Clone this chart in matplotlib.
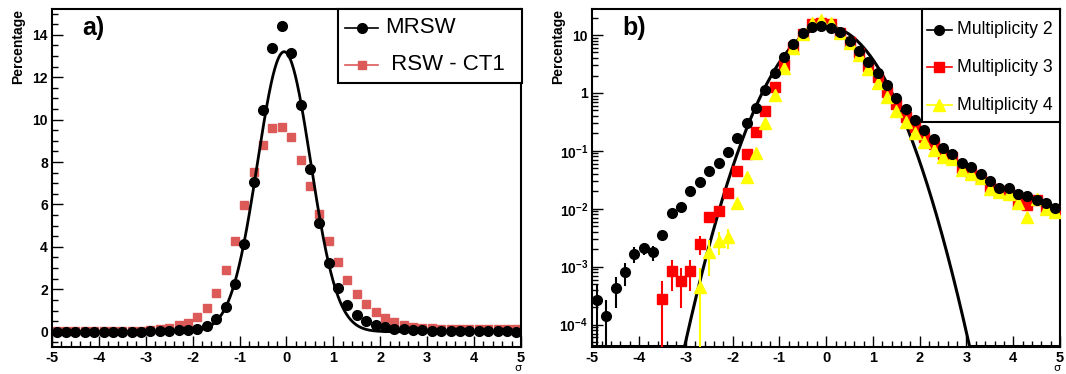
import numpy as np
import matplotlib
matplotlib.use("Agg")
import matplotlib.pyplot as plt
from matplotlib.patches import Rectangle
from matplotlib.lines import Line2D
from matplotlib.ticker import MultipleLocator, FixedLocator, FixedFormatter, NullFormatter, LogLocator

plt.rcParams['font.family'] = ['Liberation Sans', 'DejaVu Sans']
plt.rcParams['mathtext.fontset'] = 'custom'
plt.rcParams['mathtext.rm'] = 'Liberation Sans'
plt.rcParams['mathtext.bf'] = 'Liberation Sans:bold'
plt.rcParams['mathtext.it'] = 'Liberation Sans:italic'

# ---------------- data ----------------
sigma_bins = [-4.9, -4.7, -4.5, -4.3, -4.1, -3.9, -3.7, -3.5, -3.3, -3.1,
              -2.9, -2.7, -2.5, -2.3, -2.1, -1.9, -1.7, -1.5, -1.3, -1.1,
              -0.9, -0.7, -0.5, -0.3, -0.1, 0.1, 0.3, 0.5, 0.7, 0.9,
              1.1, 1.3, 1.5, 1.7, 1.9, 2.1, 2.3, 2.5, 2.7, 2.9,
              3.1, 3.3, 3.5, 3.7, 3.9, 4.1, 4.3, 4.5, 4.7, 4.9]

# panel a) linear percentages
mrsw = [0.0, 0.0, 0.0, 0.0, 0.0, 0.0, 0.0, 0.0, 0.01, 0.01,
        0.02, 0.03, 0.045, 0.06, 0.09, 0.15, 0.29, 0.58, 1.18, 2.25,
        4.14, 7.08, 10.45, 13.37, 14.42, 13.13, 10.69, 7.67, 5.14, 3.25,
        2.05, 1.26, 0.80, 0.50, 0.32, 0.21, 0.15, 0.11, 0.08, 0.06,
        0.05, 0.04, 0.03, 0.025, 0.022, 0.018, 0.016, 0.014, 0.013, 0.01]
rsw_ct1 = [0.02, 0.02, 0.02, 0.02, 0.02, 0.03, 0.03, 0.03, 0.04, 0.05,
           0.07, 0.11, 0.19, 0.30, 0.43, 0.70, 1.13, 1.81, 2.91, 4.29,
           5.98, 7.55, 8.80, 9.59, 9.67, 9.20, 8.10, 6.87, 5.54, 4.28,
           3.27, 2.44, 1.78, 1.31, 0.94, 0.66, 0.45, 0.32, 0.24, 0.19,
           0.16, 0.15, 0.14, 0.13, 0.13, 0.12, 0.12, 0.12, 0.12, 0.12]

# panel b) log percentages (NaN = no entry)
nan = np.nan
mult2 = [2.7e-4, 1.4e-4, 4.2e-4, 8.2e-4, 1.66e-3, 2.07e-3, 1.77e-3, 3.46e-3, 8.3e-3, 1.06e-2,
         2.02e-2, 2.93e-2, 4.5e-2, 6.2e-2, 9.7e-2, 0.169, 0.306, 0.56, 1.12, 2.18,
         4.1, 6.9, 10.7, 13.6, 14.5, 13.4, 11.1, 7.9, 5.36, 3.46,
         2.23, 1.37, 0.83, 0.52, 0.34, 0.229, 0.158, 0.110, 0.088, 0.062,
         0.052, 0.040, 0.030, 0.023, 0.0225, 0.0179, 0.0166, 0.0141, 0.0127, 0.0102]
mult2_err = [2.3e-4, 1.3e-4, 2.3e-4, 3.5e-4, 5e-4, 5e-4, 5e-4, 5e-4, 0, 0,
             0, 0, 0, 0, 0, 0, 0, 0, 0, 0,
             0, 0, 0, 0, 0, 0, 0, 0, 0, 0,
             0, 0, 0, 0, 0, 0, 0, 0, 0, 0,
             0, 0, 0, 0, 0, 0, 0, 0, 0, 0]
mult3 = [nan, nan, nan, nan, nan, nan, nan, 2.75e-4, 8.4e-4, 5.6e-4,
         8.4e-4, 2.5e-3, 7.3e-3, 9.1e-3, 1.85e-2, 4.5e-2, 8.8e-2, 0.209, 0.49, 1.25,
         3.03, 6.3, 10.4, 15.5, 16.3, 15.5, 11.0, 7.7, 4.9, 2.9,
         1.86, 1.05, 0.64, 0.39, 0.255, 0.175, 0.131, 0.088, 0.077, 0.050,
         0.041, 0.0335, 0.0234, 0.0205, 0.019, 0.0124, 0.0116, 0.0141, 0.0102, 0.0092]
mult3_err = [0, 0, 0, 0, 0, 0, 0, 2.8e-4, 4.6e-4, 3.7e-4,
             4.6e-4, 9e-4, 1.2e-3, 0, 0, 0, 0, 0, 0, 0,
             0, 0, 0, 0, 0, 0, 0, 0, 0, 0,
             0, 0, 0, 0, 0, 0, 0, 0, 0, 0,
             0, 0, 0, 0, 0, 0, 0, 0, 0, 0]
mult4 = [nan, nan, nan, nan, nan, nan, nan, nan, nan, nan,
         nan, 4.5e-4, 1.8e-3, 2.8e-3, 3.2e-3, 1.24e-2, 3.5e-2, 9.3e-2, 0.30, 0.92,
         2.66, 5.9, 10.4, 16.0, 18.2, 16.3, 11.0, 7.4, 4.5, 2.56,
         1.5, 0.86, 0.49, 0.32, 0.20, 0.144, 0.103, 0.077, 0.071, 0.047,
         0.040, 0.0335, 0.0216, 0.0197, 0.018, 0.0124, 0.0073, 0.0145, 0.0098, 0.0087]
mult4_err = [0, 0, 0, 0, 0, 0, 0, 0, 0, 0,
             0, 4.8e-4, 1.1e-3, 1.2e-3, 1.2e-3, 0, 0, 0, 0, 0,
             0, 0, 0, 0, 0, 0, 0, 0, 0, 0,
             0, 0, 0, 0, 0, 0, 0, 0, 0, 0,
             0, 0, 0, 0, 0, 0, 0, 0, 0, 0]

# Gaussian fit parameters (amplitude, mean, width) of the drawn fit curves
fit_a = (13.2, -0.05, 0.565)
fit_b = (14.0, 0.02, 0.604)

legend_a_labels = ['MRSW', ' RSW - CT1']
legend_b_labels = ['Multiplicity 2', 'Multiplicity 3', 'Multiplicity 4']
y_ticks_a = [0, 2, 4, 6, 8, 10, 12, 14]
y_ticks_b = [1e-4, 1e-3, 1e-2, 1e-1, 1, 10]
y_ticklabels_b = [r'$\mathbf{10^{-4}}$', r'$\mathbf{10^{-3}}$', r'$\mathbf{10^{-2}}$',
                  r'$\mathbf{10^{-1}}$', '1', '10']
x_ticks = [-5, -4, -3, -2, -1, 0, 1, 2, 3, 4, 5]

# ---------------- figure ----------------
W, H = 1066, 374
fig = plt.figure(figsize=(W / 100, H / 100), dpi=100)
ax_a = fig.add_axes([0.0488, 0.0722, 0.4399, 0.9029])
ax_b = fig.add_axes([0.5556, 0.0722, 0.4388, 0.9029])

x = np.array(sigma_bins)
xc = np.linspace(-5, 5, 801)

def gauss(xx, p):
    a, m, s = p
    return a * np.exp(-0.5 * ((xx - m) / s) ** 2)

def fx(px):
    return px / W

def fy(py):
    return 1 - py / H

def style_axes(ax):
    for sp in ax.spines.values():
        sp.set_linewidth(1.5)
    ax.tick_params(which='both', direction='in', top=False, right=False,
                   labelsize=10, width=1.0)
    ax.tick_params(which='major', length=8)
    ax.tick_params(which='minor', length=4)
    ax.set_xlim(-5, 5)
    ax.xaxis.set_major_locator(FixedLocator(x_ticks))
    ax.xaxis.set_minor_locator(MultipleLocator(0.2))
    ax.set_xticklabels([str(t) for t in x_ticks], fontweight='bold', fontsize=10.5)
    ax.tick_params(axis='x', pad=3)
    ax.tick_params(axis='y', pad=3)
    ax.text(0.993, -0.0775, 'σ', transform=ax.transAxes, ha='center', va='bottom',
            fontsize=8, family=['DejaVu Sans'])
    ax.set_ylabel('Percentage', fontweight='bold', fontsize=10)
    ax.yaxis.set_label_coords(-0.058, 1.0)
    ax.yaxis.label.set_horizontalalignment('right')

def manual_legend(box, rows, fontsize):
    x0, y0, x1, y1 = box
    fig.add_artist(Rectangle((fx(x0), fy(y1)), fx(x1) - fx(x0), fy(y0) - fy(y1),
                             transform=fig.transFigure, facecolor='white',
                             edgecolor='black', lw=1.5, zorder=10))
    for (py, hx0, hx1, tx, label, color, marker, ms) in rows:
        fig.add_artist(Line2D([fx(hx0), fx(hx1)], [fy(py), fy(py)],
                              transform=fig.transFigure, color=color, lw=1.2, zorder=11))
        fig.add_artist(Line2D([fx((hx0 + hx1) / 2)], [fy(py)], transform=fig.transFigure,
                              color=color, marker=marker, ms=ms, ls='none', zorder=12))
        fig.text(fx(tx), fy(py), label, ha='left', va='center', fontsize=fontsize,
                 zorder=12)

# ---- panel a ----
ax = ax_a
style_axes(ax)
ax.set_ylim(-0.72, 15.2)
ax.yaxis.set_major_locator(FixedLocator(y_ticks_a))
ax.yaxis.set_minor_locator(MultipleLocator(0.5))
ax.set_yticklabels([str(t) for t in y_ticks_a], fontweight='bold')
red_a = '#dc5a57'
ax.plot(x, rsw_ct1, ls='none', marker='s', ms=6.2, color=red_a, mec=red_a, zorder=2)
ax.plot(xc, gauss(xc, fit_a), color='black', lw=2.0, zorder=3)
ax.plot(x, mrsw, ls='none', marker='o', ms=7, color='black', zorder=4)
ax.text(0.065, 0.945, 'a)', transform=ax.transAxes, fontsize=18,
        fontweight='bold', ha='left', va='center')
manual_legend((338, 9.3, 521.7, 82.7),
              [(27.5, 345, 378, 385, legend_a_labels[0], 'black', 'o', 7),
               (64.5, 345, 378, 385, legend_a_labels[1], red_a, 's', 6.2)],
              fontsize=16)

# ---- panel b ----
ax = ax_b
style_axes(ax)
ax.set_yscale('log')
ymin_b, ymax_b = 4.1e-5, 27.8
ax.set_ylim(ymin_b, ymax_b)
ax.yaxis.set_major_locator(FixedLocator(y_ticks_b))
ax.yaxis.set_major_formatter(FixedFormatter(y_ticklabels_b))
ax.yaxis.set_minor_locator(LogLocator(base=10, subs=np.arange(2, 10)))
ax.yaxis.set_minor_formatter(NullFormatter())
for lbl in ax.get_yticklabels():
    lbl.set_fontweight('bold')

m2 = np.array(mult2); e2 = np.array(mult2_err)
m3 = np.array(mult3); e3 = np.array(mult3_err)
m4 = np.array(mult4); e4 = np.array(mult4_err)

ax.plot(xc, np.maximum(gauss(xc, fit_b), ymin_b * 1.02), color='black', lw=2.2, zorder=2)
ax.errorbar(x, m3, yerr=[np.minimum(e3, np.nan_to_num(m3) * 0.999), e3], fmt='s',
            color='#ff0000', ms=7, elinewidth=1.5, capsize=0, zorder=3)
ax.errorbar(x, m4, yerr=[np.minimum(e4, np.nan_to_num(m4) * 0.999), e4], fmt='^',
            color='#ffff00', ms=8.5, elinewidth=1.5, capsize=0, zorder=4)
ax.errorbar(x, m2, yerr=[np.minimum(e2, m2 * 0.999), e2], fmt='o',
            color='black', ms=7, elinewidth=1.5, capsize=0, zorder=5)
ax.text(0.065, 0.945, 'b)', transform=ax.transAxes, fontsize=18,
        fontweight='bold', ha='left', va='center')
manual_legend((921.7, 9.3, 1060, 121.7),
              [(30, 926.7, 951.7, 957, legend_b_labels[0], 'black', 'o', 7),
               (67, 926.7, 951.7, 957, legend_b_labels[1], '#ff0000', 's', 7),
               (105, 926.7, 951.7, 957, legend_b_labels[2], '#ffff00', '^', 8.5)],
              fontsize=12.7)

fig.savefig('out.png', dpi=100)
